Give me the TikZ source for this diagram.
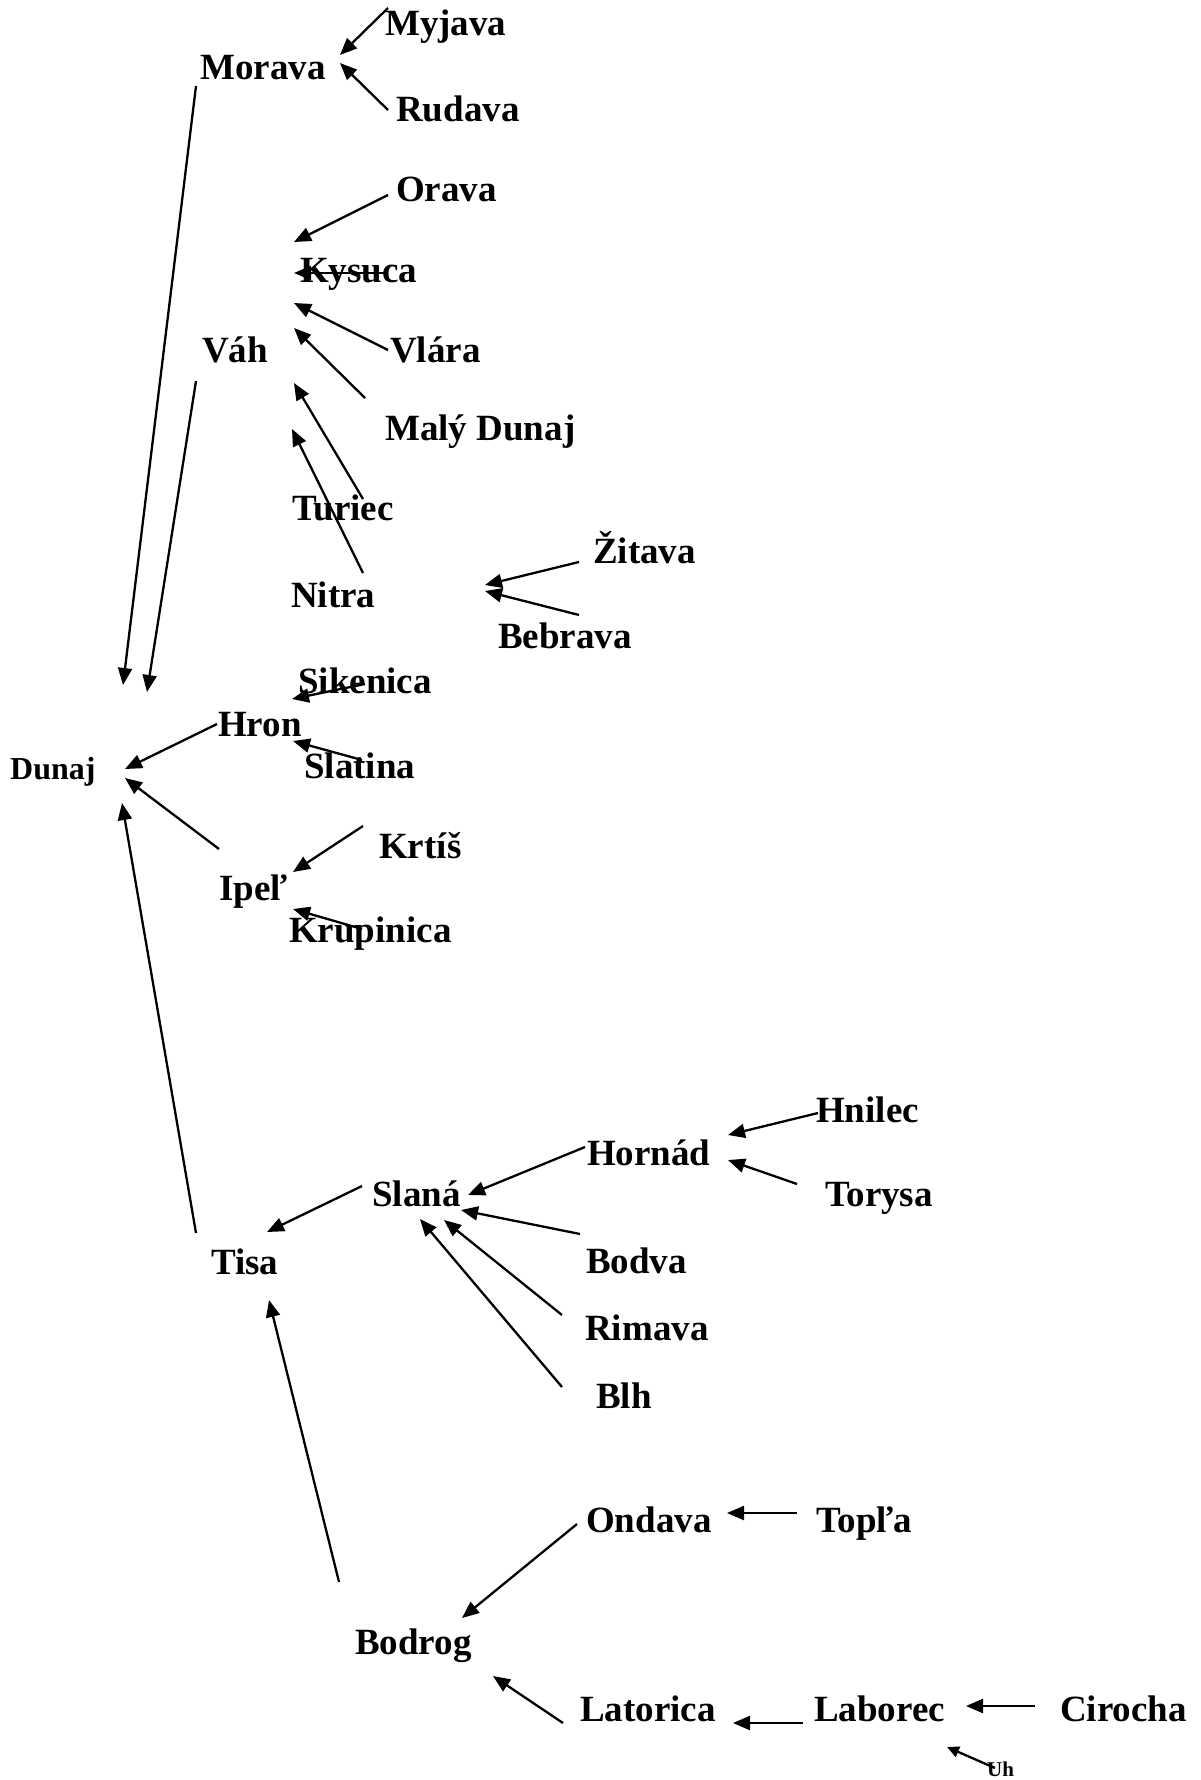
\documentclass[tikz,border=0pt]{standalone}
\usepackage{fontspec}
\setmainfont{Liberation Serif}
\usetikzlibrary{arrows.meta}
\begin{document}
\begin{tikzpicture}[x=1pt,y=-1pt,
  lbl/.style={anchor=base west, inner sep=0pt, font=\fontsize{37}{44}\selectfont\bfseries},
  smalllbl/.style={anchor=base west, inner sep=0pt, font=\fontsize{32}{38}\selectfont\bfseries},
  tinylbl/.style={anchor=base west, inner sep=0pt, font=\fontsize{21}{25}\selectfont\bfseries},
  conn/.style={line width=2.3pt, -{Triangle[length=17pt,width=14pt]}},
  smallconn/.style={line width=2.3pt, -{Triangle[length=12pt,width=11pt]}}]
\useasboundingbox[fill=white] (0,0) rectangle (1200,1780);
% labels
\node[lbl] (myjava) at (385,35) {Myjava};
\node[lbl] (morava) at (200,79) {Morava};
\node[lbl] (rudava) at (396,121) {Rudava};
\node[lbl] (orava) at (396,201) {Orava};
\node[lbl] (kysuca) at (300,282) {Kysuca};
\node[lbl] (vah) at (202,362) {Váh};
\node[lbl] (vlara) at (390,362) {Vlára};
\node[lbl] (malydunaj) at (385,440) {Malý Dunaj};
\node[lbl] (turiec) at (292,520) {Turiec};
\node[lbl] (nitra) at (291,607) {Nitra};
\node[lbl] (zitava) at (593,563) {Žitava};
\node[lbl] (bebrava) at (498,648) {Bebrava};
\node[lbl] (sikenica) at (298,693) {Sikenica};
\node[lbl] (hron) at (218,736) {Hron};
\node[lbl] (slatina) at (304,778) {Slatina};
\node[smalllbl] (dunaj) at (10,779) {Dunaj};
\node[lbl] (krtis) at (379,858) {Krtíš};
\node[lbl] (ipel) at (219,900) {Ipeľ};
\node[lbl] (krupinica) at (289,942) {Krupinica};
\node[lbl] (hnilec) at (816,1122) {Hnilec};
\node[lbl] (hornad) at (587,1165) {Hornád};
\node[lbl] (torysa) at (825,1206) {Torysa};
\node[lbl] (slana) at (372,1206) {Slaná};
\node[lbl] (bodva) at (586,1273) {Bodva};
\node[lbl] (tisa) at (211,1274) {Tisa};
\node[lbl] (rimava) at (585,1340) {Rimava};
\node[lbl] (blh) at (596,1408) {Blh};
\node[lbl] (ondava) at (586,1532) {Ondava};
\node[lbl] (topla) at (816,1532) {Topľa};
\node[lbl] (bodrog) at (355,1654) {Bodrog};
\node[lbl] (latorica) at (580,1721) {Latorica};
\node[lbl] (laborec) at (814,1721) {Laborec};
\node[lbl] (cirocha) at (1060,1721) {Cirocha};
\node[tinylbl] (uh) at (987,1776) {Uh};
% connector end points
\coordinate (myjava-o) at (388,8);    \coordinate (morava-i1) at (340,55);
\coordinate (rudava-o) at (388,110);  \coordinate (morava-i2) at (340,63);
\coordinate (morava-o) at (196,86);   \coordinate (dunaj-i1) at (123,685);
\coordinate (vah-o) at (196,381);     \coordinate (dunaj-i2) at (147,692);
\coordinate (orava-o) at (388,195);   \coordinate (vah-i1) at (294,242);
\coordinate (kysuca-o) at (385,273);  \coordinate (vah-i2) at (294,273);
\coordinate (vlara-o) at (388,350);   \coordinate (vah-i3) at (294,303);
\coordinate (malydunaj-o) at (365,398); \coordinate (vah-i4) at (294,328);
\coordinate (turiec-o) at (363,499);  \coordinate (vah-i5) at (294,383);
\coordinate (nitra-o) at (363,573);   \coordinate (vah-i6) at (292,429);
\coordinate (zitava-o) at (579,562);  \coordinate (nitra-i1) at (485,585);
\coordinate (bebrava-o) at (579,615); \coordinate (nitra-i2) at (485,591);
\coordinate (sikenica-o) at (365,684); \coordinate (hron-i1) at (292,699);
\coordinate (slatina-o) at (362,760); \coordinate (hron-i2) at (293,741);
\coordinate (hron-o) at (217,724);    \coordinate (dunaj-i3) at (125,769);
\coordinate (ipel-o) at (219,849);    \coordinate (dunaj-i4) at (125,778);
\coordinate (tisa-o) at (196,1233);   \coordinate (dunaj-i5) at (122,803);
\coordinate (krtis-o) at (363,826);   \coordinate (ipel-i1) at (293,872);
\coordinate (krupinica-o) at (362,929); \coordinate (ipel-i2) at (293,909);
\coordinate (hnilec-o) at (818,1113); \coordinate (hornad-i1) at (728,1135);
\coordinate (torysa-o) at (797,1184); \coordinate (hornad-i2) at (728,1160);
\coordinate (hornad-o) at (585,1147); \coordinate (slana-i1) at (468,1195);
\coordinate (slana-o) at (362,1186);  \coordinate (tisa-i1) at (267,1232);
\coordinate (bodva-o) at (580,1234);  \coordinate (slana-i2) at (461,1210);
\coordinate (rimava-o) at (562,1315); \coordinate (slana-i3) at (444,1220);
\coordinate (blh-o) at (562,1387);    \coordinate (slana-i4) at (420,1219);
\coordinate (bodrog-o) at (339,1582); \coordinate (tisa-i2) at (269,1300);
\coordinate (topla-o) at (797,1513);  \coordinate (ondava-i) at (727,1513);
\coordinate (ondava-o) at (577,1524); \coordinate (bodrog-i1) at (462,1618);
\coordinate (latorica-o) at (563,1723); \coordinate (bodrog-i2) at (493,1676);
\coordinate (laborec-o) at (803,1723); \coordinate (latorica-i) at (733,1723);
\coordinate (cirocha-o) at (1035,1706); \coordinate (laborec-i1) at (966,1706);
\coordinate (uh-o) at (995,1768);     \coordinate (laborec-i2) at (947,1747);
% connectors
\draw[conn] (myjava-o) -- (morava-i1);
\draw[conn] (rudava-o) -- (morava-i2);
\draw[conn] (morava-o) -- (dunaj-i1);
\draw[conn] (vah-o) -- (dunaj-i2);
\draw[conn] (orava-o) -- (vah-i1);
\draw[conn] (kysuca-o) -- (vah-i2);
\draw[conn] (vlara-o) -- (vah-i3);
\draw[conn] (malydunaj-o) -- (vah-i4);
\draw[conn] (turiec-o) -- (vah-i5);
\draw[conn] (nitra-o) -- (vah-i6);
\draw[conn] (zitava-o) -- (nitra-i1);
\draw[conn] (bebrava-o) -- (nitra-i2);
\draw[conn] (sikenica-o) -- (hron-i1);
\draw[conn] (slatina-o) -- (hron-i2);
\draw[conn] (hron-o) -- (dunaj-i3);
\draw[conn] (ipel-o) -- (dunaj-i4);
\draw[conn] (tisa-o) -- (dunaj-i5);
\draw[conn] (krtis-o) -- (ipel-i1);
\draw[conn] (krupinica-o) -- (ipel-i2);
\draw[conn] (hnilec-o) -- (hornad-i1);
\draw[conn] (torysa-o) -- (hornad-i2);
\draw[conn] (hornad-o) -- (slana-i1);
\draw[conn] (slana-o) -- (tisa-i1);
\draw[conn] (bodva-o) -- (slana-i2);
\draw[conn] (rimava-o) -- (slana-i3);
\draw[conn] (blh-o) -- (slana-i4);
\draw[conn] (bodrog-o) -- (tisa-i2);
\draw[conn] (topla-o) -- (ondava-i);
\draw[conn] (ondava-o) -- (bodrog-i1);
\draw[conn] (latorica-o) -- (bodrog-i2);
\draw[conn] (laborec-o) -- (latorica-i);
\draw[conn] (cirocha-o) -- (laborec-i1);
\draw[smallconn] (uh-o) -- (laborec-i2);
\end{tikzpicture}
\end{document}
